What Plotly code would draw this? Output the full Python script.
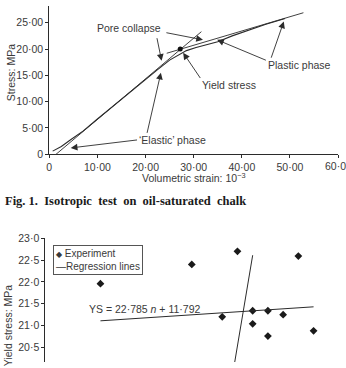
import plotly.graph_objects as go

# ---------- Fig. 1 data: isotropic test ----------
strain_curve = [0.7, 2.5, 4.5, 7.0, 10.0, 15.0, 20.0, 22.5, 25.0, 27.0, 28.5, 30.5, 33.0, 35.0, 38.0, 41.0, 45.0, 49.0]
stress_curve = [0.6, 1.5, 2.8, 4.4, 6.7, 10.5, 14.3, 16.1, 17.9, 19.0, 19.7, 20.3, 20.9, 21.4, 22.5, 23.5, 24.7, 25.8]
elastic_strain = [1.4, 31.6]
elastic_stress = [0.0, 23.3]
plastic_strain = [24.4, 52.8]
plastic_stress = [19.2, 26.9]
yield_strain = [27.2]
yield_stress = [20.0]
top_xticks = [0, 10, 20, 30, 40, 50]
top_xticklabels = ["0", "10·00", "20·00", "30·00", "40·00", "50·00"]
top_last_xtick = 60
top_last_xticklabel = "60·00"
top_yticks = [0, 5, 10, 15, 20, 25]
top_yticklabels = ["0", "5·00", "10·00", "15·00", "20·00", "25·00"]

# ---------- Fig. 2 data: yield stress vs porosity ----------
exp_n = [0.409, 0.415, 0.418, 0.422, 0.417, 0.419, 0.420, 0.421, 0.419, 0.420, 0.423]
exp_ys = [21.96, 22.40, 22.70, 22.59, 21.20, 21.34, 21.34, 21.25, 21.04, 20.76, 20.88]
reg1_n = [0.409, 0.423]
reg1_ys = [21.11, 21.43]
reg2_n = [0.4190, 0.4175]
reg2_ys = [22.61, 19.5]
bot_yticks = [20.0, 20.5, 21.0, 21.5, 22.0, 22.5, 23.0]
bot_yticklabels = ["20·0", "20·5", "21·0", "21·5", "22·0", "22·5", "23·0"]

W, H = 346, 368
INK = "#2b2b2b"
TXT = "#3a3a3a"
FONT = "Liberation Sans, Arial, sans-serif"

fig = go.Figure()
fig.add_trace(go.Scatter(x=strain_curve, y=stress_curve, mode="lines", line=dict(color=INK, width=1.1),
                         xaxis="x", yaxis="y", showlegend=False))
fig.add_trace(go.Scatter(x=elastic_strain, y=elastic_stress, mode="lines", line=dict(color=INK, width=0.9),
                         xaxis="x", yaxis="y", showlegend=False))
fig.add_trace(go.Scatter(x=plastic_strain, y=plastic_stress, mode="lines", line=dict(color=INK, width=0.9),
                         xaxis="x", yaxis="y", showlegend=False))
fig.add_trace(go.Scatter(x=yield_strain, y=yield_stress, mode="markers",
                         marker=dict(color="#111", size=5), xaxis="x", yaxis="y", showlegend=False))

fig.add_trace(go.Scatter(x=exp_n, y=exp_ys, mode="markers", name="Experiment",
                         marker=dict(symbol="diamond", color="#1a1a1a", size=6),
                         xaxis="x2", yaxis="y2", showlegend=False))
fig.add_trace(go.Scatter(x=reg1_n, y=reg1_ys, mode="lines", name="Regression lines",
                         line=dict(color=INK, width=1), xaxis="x2", yaxis="y2", showlegend=False))
fig.add_trace(go.Scatter(x=reg2_n, y=reg2_ys, mode="lines", line=dict(color=INK, width=1),
                         xaxis="x2", yaxis="y2", showlegend=False))

axis_common = dict(showgrid=False, zeroline=False, showline=True, linecolor=INK, linewidth=1,
                   ticks="outside", ticklen=3, tickcolor=INK, tickwidth=1,
                   tickfont=dict(family=FONT, size=10.5, color=TXT))

def px2fx(p):
    return p / W

def py2fy(p):
    return 1 - p / H

fig.update_layout(
    width=W, height=H,
    margin=dict(l=0, r=0, t=0, b=0),
    paper_bgcolor="white", plot_bgcolor="white",
    showlegend=False,
    xaxis=dict(axis_common, domain=[px2fx(46.7), px2fx(338)], range=[0, 60], anchor="y",
               tickmode="array", tickvals=top_xticks + [top_last_xtick],
               ticktext=top_xticklabels + [top_last_xticklabel]),
    yaxis=dict(axis_common, domain=[py2fy(153.3), 1], range=[0, 28.18], anchor="x",
               tickmode="array", tickvals=top_yticks, ticktext=top_yticklabels),
    xaxis2=dict(domain=[px2fx(42.7), 1], range=[0.40538, 0.42513], anchor="y2",
                showline=False, showgrid=False, zeroline=False, showticklabels=False, ticks=""),
    yaxis2=dict(axis_common, domain=[0, py2fy(240)], range=[20.168, 23.0], anchor="x2",
                tickmode="array", tickvals=bot_yticks, ticktext=bot_yticklabels),
)

ann = []
tf = dict(family=FONT, size=10.5, color=TXT)
# last x tick label of the top chart (runs off the page edge, as in the original)
ann.append(dict(text=top_last_xticklabel, xref="x", yref="paper", x=top_last_xtick, y=py2fy(157.5),
                showarrow=False, font=tf, xanchor="center", yanchor="top"))
# titles
ann.append(dict(text="Stress: MPa", textangle=-90, xref="paper", yref="paper",
                x=px2fx(8), y=py2fy(68.5), showarrow=False, font=tf, xanchor="center", yanchor="middle"))
ann.append(dict(text="Volumetric strain: 10<sup>−3</sup>", xref="x", yref="paper",
                x=30, y=py2fy(177.5), showarrow=False, font=tf, xanchor="center", yanchor="middle"))
ann.append(dict(text="<b>Fig. 1.  Isotropic  test  on  oil-saturated  chalk</b>", xref="paper", yref="paper",
                x=0, y=py2fy(202), showarrow=False, xanchor="left", yanchor="middle",
                font=dict(family="Liberation Serif, Times New Roman, serif", size=12.5, color="#1a1a1a")))
ann.append(dict(text="Yield stress: MPa", textangle=-90, xref="paper", yref="paper",
                x=px2fx(5), y=py2fy(330), showarrow=False, font=tf, xanchor="center", yanchor="middle"))

# top-chart labels
labels = [("Pore collapse", 16.5, 24.0), ("Yield stress", 37.4, 13.16),
          ("Plastic phase", 51.97, 16.97), ("‘Elastic’ phase", 25.6, 2.63)]
for t, x, y in labels:
    ann.append(dict(text=t, x=x, y=y, xref="x", yref="y", showarrow=False, font=tf))

arrows = [  # (head_x, head_y, tail_x, tail_y)
    (23.34, 17.76, 22.31, 22.35),
    (31.93, 21.75, 24.02, 23.16),
    (27.81, 19.30, 31.58, 14.21),
    (34.87, 21.75, 45.31, 17.76),
    (48.73, 25.24, 46.00, 18.07),
    (23.19, 15.50, 20.25, 3.79),
    (4.45, 1.21, 18.54, 2.76),
]
for hx, hy, tx, ty in arrows:
    ann.append(dict(text="", x=hx, y=hy, ax=tx, ay=ty, xref="x", yref="y", axref="x", ayref="y",
                    showarrow=True, arrowhead=2, arrowsize=1.5, arrowwidth=0.9, arrowcolor=INK, standoff=0))

# bottom chart legend box & equation
ann.append(dict(text='<span style="font-size:8px">◆</span> Experiment<br>—Regression lines',
                xref="paper", yref="paper", x=px2fx(50), y=py2fy(247.3), xanchor="left", yanchor="top",
                align="left", showarrow=False, font=dict(family=FONT, size=10, color=TXT),
                bordercolor="#555", borderwidth=1, borderpad=2, bgcolor="white"))
ann.append(dict(text="YS = 22·785 <i>n</i> + 11·792", xref="x2", yref="y2", x=0.4119, y=21.39,
                showarrow=False, font=tf))

fig.update_layout(annotations=ann)
fig.write_html("out.html")
